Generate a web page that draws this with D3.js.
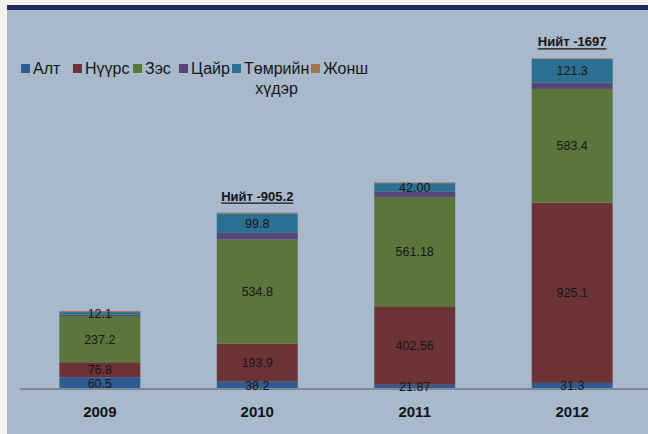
<!DOCTYPE html>
<html>
<head>
<meta charset="utf-8">
<script src="https://cdn.jsdelivr.net/npm/d3@7"></script>
<style>
  html, body { margin: 0; padding: 0; background: #f3f3ee; }
  svg { display: block; font-family: "Liberation Sans", Arial, sans-serif; }
</style>
</head>
<body>
<div id="chart"></div>
<script>
const years = ['2009', '2010', '2011', '2012'];
const seriesNames = ['Алт', 'Нүүрс', 'Зэс', 'Цайр', 'Төмрийн хүдэр', 'Жонш'];
const seriesColors = ['#2f5b94', '#6b3336', '#5a763c', '#56467a', '#2b7090', '#a0744c'];

// values per series, by year
const alt    = [60.5, 38.2, 21.87, 31.3];
const nuurs  = [76.8, 193.9, 402.56, 925.1];
const zes    = [237.2, 534.8, 561.18, 583.4];
const tsair  = [8, 34, 28.5, 32];
const tumur  = [12.1, 99.8, 42.00, 121.3];
const jonsh  = [5, 4.5, 4, 3.6];
const valueLabels = [
  ['60.5', '38.2', '21.87', '31.3'],
  ['76.8', '193.9', '402.56', '925.1'],
  ['237.2', '534.8', '561.18', '583.4'],
  null,
  ['12.1', '99.8', '42.00', '121.3'],
  null
];
const totalLabels = [null, 'Нийт -905.2', null, 'Нийт -1697'];

const W = 648, H = 434;
const svg = d3.select('#chart').append('svg').attr('width', W).attr('height', H);

// panel
svg.append('rect').attr('x', 7).attr('y', 5).attr('width', W - 7).attr('height', H - 5).attr('fill', '#a7b9cb');
svg.append('rect').attr('x', 7).attr('y', 5).attr('width', W - 7).attr('height', 5).attr('fill', '#242a5e');

const x = d3.scaleBand().domain(years).range([20, 652]).paddingInner(0.486).paddingOuter(0.25);
const y = d3.scaleLinear().domain([0, 1700]).range([389, 57.7]);

const allSeries = [alt, nuurs, zes, tsair, tumur, jonsh];
const table = years.map((yr, i) => {
  const row = { year: yr };
  seriesNames.forEach((s, k) => { row[s] = allSeries[k][i]; });
  return row;
});
const stacked = d3.stack().keys(seriesNames)(table);

const layers = svg.append('g').selectAll('g')
  .data(stacked)
  .join('g')
  .attr('fill', (d, k) => seriesColors[k]);

layers.selectAll('rect')
  .data(d => d)
  .join('rect')
  .attr('x', d => x(d.data.year))
  .attr('width', x.bandwidth())
  .attr('y', d => y(d[1]))
  .attr('height', d => y(d[0]) - y(d[1]));

// baseline
svg.append('line')
  .attr('x1', 20).attr('x2', W)
  .attr('y1', y(0)).attr('y2', y(0))
  .attr('stroke', '#7f8995').attr('stroke-width', 2);

// value labels
stacked.forEach((layer, k) => {
  if (!valueLabels[k]) return;
  svg.append('g').selectAll('text')
    .data(layer)
    .join('text')
    .attr('x', d => x(d.data.year) + x.bandwidth() / 2)
    .attr('y', d => (y(d[0]) + y(d[1])) / 2)
    .attr('dy', '0.36em')
    .attr('text-anchor', 'middle')
    .attr('font-size', '12.5px')
    .attr('fill', '#161616')
    .text((d, i) => valueLabels[k][i]);
});

// totals
const tops = stacked[stacked.length - 1];
years.forEach((yr, i) => {
  if (!totalLabels[i]) return;
  const cx = x(yr) + x.bandwidth() / 2;
  const by = y(tops[i][1]) - 12;
  const t = svg.append('text')
    .attr('x', cx).attr('y', by)
    .attr('text-anchor', 'middle')
    .attr('font-size', '13px')
    .attr('font-weight', 'bold')
    .attr('fill', '#141414')
    .text(totalLabels[i]);
  const w = t.node().getComputedTextLength();
  svg.append('line')
    .attr('x1', cx - w / 2).attr('x2', cx + w / 2)
    .attr('y1', by + 2.5).attr('y2', by + 2.5)
    .attr('stroke', '#141414').attr('stroke-width', 1.3);
});

// year axis labels
svg.append('g').selectAll('text')
  .data(years)
  .join('text')
  .attr('x', d => x(d) + x.bandwidth() / 2)
  .attr('y', 417)
  .attr('text-anchor', 'middle')
  .attr('font-size', '15px')
  .attr('font-weight', 'bold')
  .attr('fill', '#141414')
  .text(d => d);

// legend
const legendX = [21, 73, 133, 179, 232, 311];
const legend = svg.append('g').selectAll('g')
  .data(seriesNames)
  .join('g')
  .attr('transform', (d, k) => `translate(${legendX[k]},0)`);
legend.append('rect')
  .attr('y', 64).attr('width', 9).attr('height', 9)
  .attr('fill', (d, k) => seriesColors[k]);
legend.each(function (d) {
  const parts = d.split(' ');
  const t = d3.select(this).append('text')
    .attr('x', 12).attr('y', 74)
    .attr('font-size', '16px')
    .attr('fill', '#161616');
  t.append('tspan').attr('x', 12).text(parts[0]);
  if (parts[1]) {
    const w = t.select('tspan').node().getComputedTextLength();
    t.append('tspan').attr('x', 12 + w / 2).attr('dy', 20)
      .attr('text-anchor', 'middle').text(parts[1]);
  }
});
</script>
</body>
</html>
